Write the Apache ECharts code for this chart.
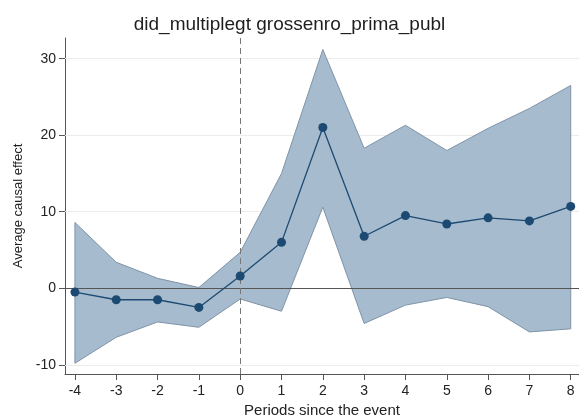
<!DOCTYPE html>
<html><head><meta charset="utf-8">
<script src="https://cdn.jsdelivr.net/npm/echarts@6/dist/echarts.min.js"></script>
<style>html,body{margin:0;padding:0;background:#fff}#c{width:579px;height:415px}</style>
</head><body><div id="c"></div>
<script>
const periods = [-4,-3,-2,-1,0,1,2,3,4,5,6,7,8];
const estimate = [-0.5,-1.5,-1.5,-2.5,1.6,6.0,21.0,6.8,9.5,8.4,9.2,8.8,10.7];
const upperCI = [8.6,3.4,1.3,0.1,4.7,15.0,31.2,18.3,21.3,18.0,20.9,23.5,26.5];
const lowerCI = [-9.8,-6.4,-4.4,-5.1,-1.4,-3.0,10.6,-4.6,-2.2,-1.2,-2.4,-5.7,-5.3];
const xTicks = [-4,-3,-2,-1,0,1,2,3,4,5,6,7,8];
const yTicks = [-10,0,10,20,30];
const titleText = 'did_multiplegt grossenro_prima_publ';

const chart = echarts.init(document.getElementById('c'));
const bandData = periods.map((p,i)=>[p, lowerCI[i], upperCI[i]]);
const font = 'Liberation Sans, Arial, sans-serif';
chart.setOption({
  animation:false,
  title:{text:titleText,left:'center',top:10,textStyle:{fontFamily:font,fontWeight:'normal',fontSize:19,color:'#1e1e1e'}},
  grid:{left:65,right:0,top:38,bottom:41,containLabel:false,outerBoundsMode:'none'},
  xAxis:{type:'value',min:-4.24,max:8.2,
    name:'Periods since the event',nameLocation:'middle',nameGap:25,
    nameTextStyle:{fontFamily:font,fontSize:15,color:'#222'},
    axisLine:{onZero:false,lineStyle:{color:'#555'}},
    axisTick:{customValues:xTicks,length:6,lineStyle:{color:'#555'}},
    axisLabel:{customValues:xTicks,fontFamily:font,fontSize:14,color:'#222',margin:10},
    splitLine:{show:false}},
  yAxis:{type:'value',min:-11.2,max:32.7,
    name:'Average causal effect',nameLocation:'middle',nameGap:40,
    nameTextStyle:{fontFamily:font,fontSize:13,color:'#222'},
    axisLine:{show:true,onZero:false,lineStyle:{color:'#555'}},
    axisTick:{show:true,customValues:yTicks,length:6,lineStyle:{color:'#555'}},
    axisLabel:{customValues:yTicks,fontFamily:font,fontSize:14,color:'#222',margin:9},
    splitLine:{show:false}},
  series:[
    {type:'line',data:[],silent:true,z:1,
     markLine:{symbol:'none',silent:true,z:1,label:{show:false},
       data:yTicks.filter(v=>v!==0).map(v=>({yAxis:v,lineStyle:{color:'#ececec',width:1,type:'solid'}}))}},
    {type:'custom',silent:true,data:bandData,z:2,
     renderItem:function(params,api){
       if(params.dataIndex!==0) return;
       const top=bandData.map(d=>api.coord([d[0],d[2]]));
       const bot=bandData.slice().reverse().map(d=>api.coord([d[0],d[1]]));
       return {type:'polygon',shape:{points:top.concat(bot)},
         style:{fill:'#a6bbcd',stroke:'#7f93a7',lineWidth:1}};
     }},
    {type:'line',data:[],silent:true,z:3,
     markLine:{symbol:'none',silent:true,z:3,label:{show:false},
       data:[{yAxis:0,lineStyle:{color:'#555',width:1,type:'solid'}},
             {xAxis:0,lineStyle:{color:'#777',width:1,type:[6,4]}}]}},
    {type:'line',data:periods.map((p,i)=>[p,estimate[i]]),z:4,
     symbol:'circle',symbolSize:9,
     lineStyle:{color:'#1c4a72',width:1.3},
     itemStyle:{color:'#1c4a72'}}
  ]
});
</script></body></html>
